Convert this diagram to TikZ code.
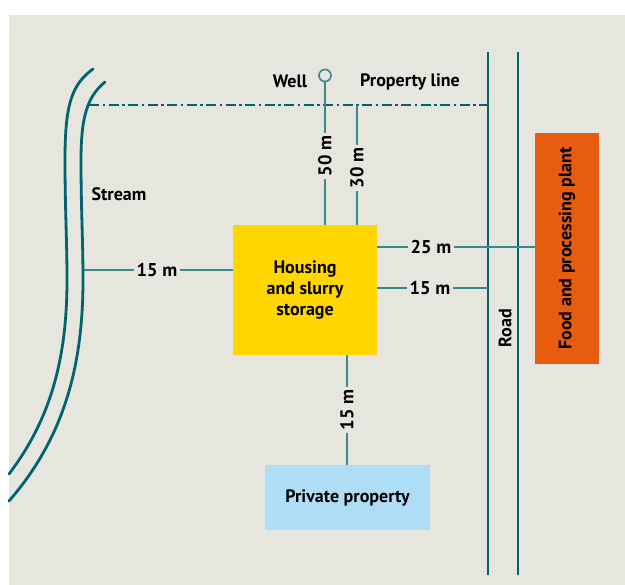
\documentclass[tikz,border=0pt]{standalone}
\usepackage{fontspec}
\setmainfont{PT Sans}
\definecolor{bgpanel}{HTML}{E6E5DE}
\definecolor{teal}{HTML}{00636F}
\definecolor{dimteal}{HTML}{3A8791}
\definecolor{housey}{HTML}{FFD600}
\definecolor{privblue}{HTML}{AEDDF5}
\definecolor{plantorange}{HTML}{E85C0D}
\tikzset{
  x=1pt, y=-1pt,
  boxtext/.style={font=\bfseries\fontsize{18}{21}\selectfont, align=center, text=black},
  areabox/.style={boxtext, draw=none, inner sep=0pt},
  mainline/.style={draw=teal, line width=2.6pt},
  streamline/.style={draw=teal, line width=2.8pt, line cap=round},
  dimline/.style={draw=dimteal, line width=1.6pt},
  dimlabel/.style={font=\bfseries\fontsize{18.5}{20}\selectfont, fill=bgpanel, inner sep=3pt},
  plainlabel/.style={font=\bfseries\fontsize{18}{20}\selectfont, inner sep=0pt},
  propline/.style={draw=teal, line width=2.6pt, dash pattern=on 10pt off 3.5pt on 2.5pt off 3.5pt}
}
\begin{document}
\begin{tikzpicture}
  \useasboundingbox (0,0) rectangle (625,585);
  \fill[bgpanel] (9,15) rectangle (625,585);

  % stream banks
  \draw[streamline] (93,69) .. controls (71,85) and (65,106) .. (65,160)
    .. controls (65,210) and (67,240) .. (67,280)
    .. controls (67,360) and (50,420) .. (9,474);
  \draw[streamline] (105,82) .. controls (88,96) and (81,115) .. (81,160)
    .. controls (81,210) and (83,240) .. (83,280)
    .. controls (83,370) and (62,440) .. (9,501);
  \node[plainlabel] (streamlbl) at (119,194) {Stream};

  % road
  \coordinate (roadAtop) at (488,52);
  \coordinate (roadAbot) at (488,575);
  \coordinate (roadBtop) at (518,52);
  \coordinate (roadBbot) at (518,575);
  \draw[mainline] (roadAtop) -- (roadAbot);
  \draw[mainline] (roadBtop) -- (roadBbot);
  \node[plainlabel, rotate=90] (roadlbl) at (505,328) {Road};

  % property line
  \coordinate (propW) at (89,105);
  \coordinate (propE) at (488,105);
  \draw[propline] (propW) -- (propE);
  \node[plainlabel] (proplbl) at (410,82) {Property line};

  % buildings and areas
  \node[areabox, fill=housey, minimum width=144pt, minimum height=130pt]
    (house) at (305,290) {Housing\\and slurry\\storage};
  \node[areabox, fill=privblue, minimum width=165pt, minimum height=65pt]
    (priv) at (347.5,497.5) {Private property};
  \node[areabox, fill=plantorange, minimum width=64pt, minimum height=231pt]
    (plant) at (567,248.5) {};
  \node[boxtext, rotate=90] (plantlbl) at (plant.center) {Food and processing plant};

  % well
  \node[draw=dimteal, line width=1.6pt, circle, minimum size=12pt, inner sep=0pt]
    (well) at (325,75.5) {};
  \node[plainlabel] (welllbl) at (290,81) {Well};

  % distances
  \coordinate (wellbase) at (well.south |- house.north);
  \draw[dimline] (well.south) -- (wellbase);
  \node[dimlabel, rotate=90] (d50) at (325,156) {50 m};

  \coordinate (p30top) at (357,105);
  \coordinate (p30bot) at (p30top |- house.north);
  \draw[dimline] (p30top) -- (p30bot);
  \node[dimlabel, rotate=90] (d30) at (357,168) {30 m};

  \coordinate (h25) at (house.east |- 0,247);
  \coordinate (pl25) at (plant.west |- h25);
  \draw[dimline] (h25) -- (pl25);
  \node[dimlabel] (d25) at (431,247) {25 m};

  \coordinate (h15r) at (house.east |- 0,288);
  \coordinate (rd15) at (roadAtop |- h15r);
  \draw[dimline] (h15r) -- (rd15);
  \node[dimlabel] (d15r) at (430,288) {15 m};

  \coordinate (st15) at (84,270);
  \coordinate (h15l) at (house.west |- st15);
  \draw[dimline] (st15) -- (h15l);
  \node[dimlabel] (d15l) at (157,270) {15 m};

  \coordinate (h15b) at (347,0 |- house.south);
  \coordinate (pr15) at (h15b |- priv.north);
  \draw[dimline] (h15b) -- (pr15);
  \node[dimlabel, rotate=90] (d15b) at (347,410) {15 m};
\end{tikzpicture}
\end{document}
